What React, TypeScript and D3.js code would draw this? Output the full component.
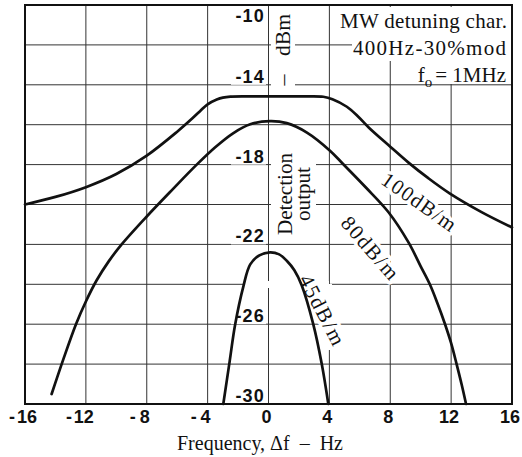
import React from "react";
import * as d3 from "d3";

const freqTicks = [-16, -12, -8, -4, 0, 4, 8, 12, 16];
const dbTicks = [-10, -14, -18, -22, -26, -30];

const curve100Freq = [-16, -14, -12, -10, -8, -6, -5, -4.5, -4, -3.4, -3, -2.5, -1, 1, 2.5, 3.6, 4.2, 5.15, 5.9, 6.6, 8, 9.2, 10.5, 11.9, 14, 16];
const curve100Dbm = [-20.0, -19.62, -19.13, -18.47, -17.55, -16.35, -15.68, -15.32, -14.98, -14.74, -14.64, -14.59, -14.58, -14.58, -14.58, -14.6, -14.72, -15.1, -15.6, -16.15, -17.1, -17.9, -18.68, -19.44, -20.38, -21.15];

const curve80Freq = [-14.25, -13.5, -12.65, -12, -11.3, -10.5, -9.65, -8, -6.3, -4.7, -3.5, -2.33, -1.2, 0.1, 1.2, 2.5, 4.04, 4.9, 6.4, 7.9, 9.2, 10, 10.6, 11.1, 11.6, 12, 12.36, 12.7, 12.98];
const curve80Dbm = [-29.5, -27.8, -26.0, -24.86, -23.81, -22.85, -22, -20.6, -19.24, -17.99, -17.13, -16.43, -15.98, -15.82, -15.92, -16.38, -17.3, -17.97, -19.15, -20.4, -21.9, -23.1, -24, -24.95, -26, -26.95, -28, -29.05, -30];

const curve45Freq = [-2.97, -2.55, -2.2, -1.65, -1.2, -0.6, 0.1, 0.7, 1.2, 1.7, 2.18, 2.94, 3.5, 3.93];
const curve45Dbm = [-30, -27.85, -26.05, -24.1, -23.0, -22.55, -22.4, -22.5, -22.82, -23.3, -24.05, -26, -28, -30];

const W = 522;
const H = 457;
const serif = "'Liberation Serif', 'DejaVu Serif', serif";
const sans = "'Liberation Sans', Arial, sans-serif";

export default function App() {
  const x = d3.scaleLinear().domain([-16, 16]).range([25, 512]);
  const y = d3.scaleLinear().domain([-30, -10]).range([404, 5]);

  const line = d3
    .line<[number, number]>()
    .x((d) => x(d[0]))
    .y((d) => y(d[1]))
    .curve(d3.curveCatmullRom.alpha(0.5));

  const zip = (a: number[], b: number[]) => a.map((v, i) => [v, b[i]] as [number, number]);

  const vGrid = d3.range(-16, 16.01, 4);
  const hGrid = d3.range(-30, -9.99, 2);

  const curveLabel = (text: string, cx: number, cy: number, angle: number, len: number) => (
    <text
      transform={`translate(${cx},${cy}) rotate(${angle})`}
      textAnchor="middle"
      dy="0.33em"
      fontFamily={serif}
      fontSize={21}
      textLength={len}
      lengthAdjust="spacing"
      stroke="#fff"
      strokeWidth={7}
      strokeLinejoin="round"
      style={{ paintOrder: "stroke" }}
      fill="#111"
    >
      {text}
    </text>
  );

  const rotText = (text: string, tx: number, ty: number, len?: number) => (
    <text
      transform={`translate(${tx},${ty}) rotate(-90)`}
      textAnchor="middle"
      fontFamily={serif}
      fontSize={22}
      fill="#111"
      {...(len ? { textLength: len, lengthAdjust: "spacingAndGlyphs" } : {})}
    >
      {text}
    </text>
  );

  return (
    <svg
      width={W}
      height={H}
      style={{ position: "absolute", left: 0, top: 0, background: "#fff" }}
    >
      <rect x={0} y={0} width={W} height={H} fill="#fff" />
      {/* grid */}
      <g stroke="#333" strokeWidth={1}>
        {vGrid.map((f) => (
          <line key={"v" + f} x1={x(f)} x2={x(f)} y1={y(-10)} y2={y(-30)} />
        ))}
        {hGrid.map((v) => (
          <line key={"h" + v} x1={x(-16)} x2={x(16)} y1={y(v)} y2={y(v)} />
        ))}
      </g>

      {/* white backgrounds for labels */}
      <g fill="#fff">
        <rect x={271} y={7} width={24} height={84} />
        <rect x={333} y={7} width={178} height={30} />
        <rect x={352} y={37} width={159} height={24} />
        <rect x={398} y={61} width={113} height={23} />
        <rect x={271} y={150} width={45} height={89} />
        <rect x={245} y={281} width={84} height={7} />
        <rect x={326} y={284} width={6} height={66} />
      </g>

      {/* y tick labels */}
      {dbTicks.map((v) => {
        const base = v === -10 ? y(v) + 17 : y(v) - 2;
        return (
          <g key={"yl" + v}>
            <rect x={231} y={base - 14} width={35} height={16} fill="#fff" />
            <text
              x={265}
              y={base}
              textAnchor="end"
              fontFamily={sans}
              fontWeight="bold"
              fontSize={18}
              letterSpacing={1.2}
              fill="#111"
            >
              {"-" + Math.abs(v)}
            </text>
          </g>
        );
      })}

      {/* x tick labels */}
      {freqTicks.map((f) => {
        const digits = String(Math.abs(f));
        const cx = Math.max(x(f) - 2, 27);
        const dw = digits.length * 10;
        return (
          <g key={"xl" + f} fontFamily={sans} fontWeight="bold" fontSize={18} fill="#111">
            <text x={cx} y={423} textAnchor="middle">
              {digits}
            </text>
            {f < 0 && (
              <text x={cx - dw / 2 - (digits.length === 1 ? 4 : 2)} y={423} textAnchor="end">
                -
              </text>
            )}
          </g>
        );
      })}

      {/* axis title */}
      <text x={177} y={450} fontFamily={serif} fontSize={20} fill="#111" style={{ whiteSpace: "pre" }}>
        {"Frequency, \u0394f  \u2013  Hz"}
      </text>

      {/* dBm unit */}
      {rotText("dBm", 290, 35, 42)}
      {rotText("\u2013", 290, 80)}

      {/* detection output */}
      {rotText("Detection", 292, 194, 82)}
      {rotText("output", 310, 194, 54)}

      {/* annotation */}
      <g fontFamily={serif} fontSize={21} fill="#111" textAnchor="end">
        <text x={507} y={28} textLength={167} lengthAdjust="spacing">
          MW detuning char.
        </text>
        <text x={506} y={55} textLength={153} lengthAdjust="spacing">
          400Hz-30%mod
        </text>
        <text x={506} y={82}>
          <tspan>f</tspan>
          <tspan fontSize={15} dy={5}>o</tspan>
          <tspan dy={-5} dx={3}>= 1MHz</tspan>
        </text>
      </g>

      {/* curve labels */}
      {curveLabel("100dB/m", 419, 202, 35, 86)}
      {curveLabel("80dB/m", 370, 248, 49, 76)}
      {curveLabel("45dB/m", 322, 310, 63, 76)}

      {/* curves */}
      <g fill="none" stroke="#111" strokeWidth={2.7} strokeLinecap="round" strokeLinejoin="round">
        <path d={line(zip(curve100Freq, curve100Dbm)) || ""} />
        <path d={line(zip(curve80Freq, curve80Dbm)) || ""} />
        <path d={line(zip(curve45Freq, curve45Dbm)) || ""} />
      </g>

      {/* frame */}
      <rect x={x(-16)} y={y(-10)} width={x(16) - x(-16)} height={y(-30) - y(-10)} fill="none" stroke="#111" strokeWidth={2} />
    </svg>
  );
}
